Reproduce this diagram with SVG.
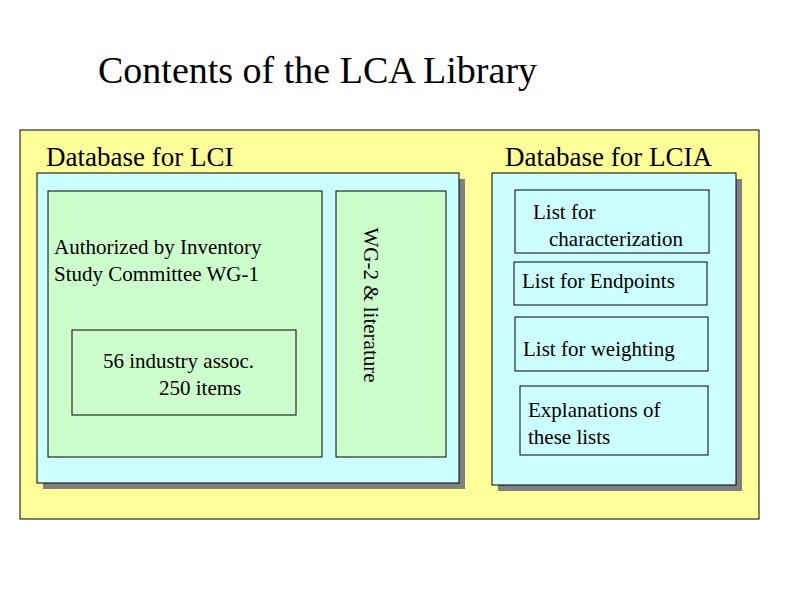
<svg xmlns="http://www.w3.org/2000/svg" width="794" height="595" viewBox="0 0 794 595">
<style>
.b{stroke:#000;stroke-width:1}
.sh{fill:#808080}
.t{font-size:21px}
</style>
<rect width="794" height="595" fill="#fff"/>
<g font-family="'Liberation Serif', 'Times New Roman', 'DejaVu Serif', serif" fill="#000">
<text x="98" y="83" font-size="38">Contents of the LCA Library</text>
<g id="outer"><rect x="20" y="130" width="739" height="389" fill="#ffff99" class="b"/>
<text x="46" y="166" font-size="27">Database for LCI</text>
<text x="505" y="166" font-size="27">Database for LCIA</text></g>
<g id="lci">
<rect x="43" y="179" width="422" height="310" class="sh"/>
<rect x="37" y="173" width="422" height="310" fill="#ccffff" class="b"/>
<rect x="48" y="191" width="274" height="266" fill="#ccffcc" class="b"/>
<text x="54" y="254" class="t">Authorized by Inventory</text>
<text x="54" y="281" class="t">Study Committee WG-1</text>
</g>
<g id="industry"><rect x="72" y="330" width="224" height="85" fill="#ccffcc" class="b"/>
<text x="103" y="368" class="t">56 industry assoc.</text>
<text x="159" y="395" class="t">250 items</text></g>
<g id="wg2"><rect x="336" y="191" width="110" height="266" fill="#ccffcc" class="b"/>
<text transform="translate(364,305) rotate(90)" text-anchor="middle" class="t">WG-2 &amp; literature</text></g>
<g id="lcia">
<rect x="498" y="179" width="244" height="312" class="sh"/>
<rect x="492" y="173" width="244" height="312" fill="#ccffff" class="b"/>
</g>
<g id="char"><rect x="515" y="190" width="194" height="63" fill="#ccffff" class="b"/>
<text x="533" y="219" class="t">List for</text>
<text x="549" y="246" class="t">characterization</text></g>
<g id="endp"><rect x="514" y="262" width="193" height="43" fill="#ccffff" class="b"/>
<text x="522" y="288" class="t">List for Endpoints</text></g>
<g id="weight"><rect x="515" y="317" width="193" height="54" fill="#ccffff" class="b"/>
<text x="523" y="356" class="t">List for weighting</text></g>
<g id="expl"><rect x="520" y="386" width="188" height="69" fill="#ccffff" class="b"/>
<text x="528" y="417" class="t">Explanations of</text>
<text x="528" y="444" class="t">these lists</text></g>
</g>
<g id="connectors"/>
</svg>
